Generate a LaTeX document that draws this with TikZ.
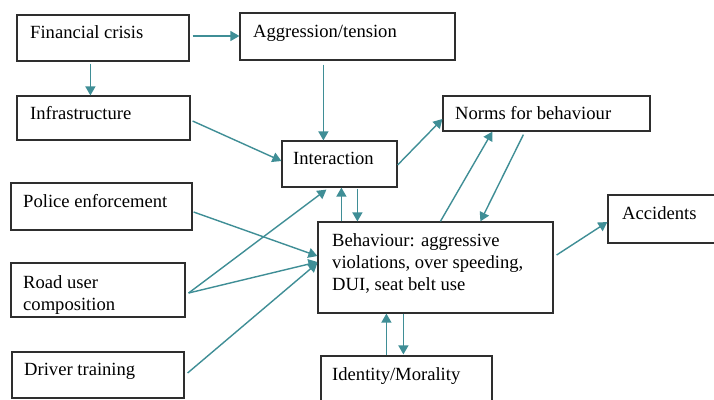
\documentclass[tikz,border=0pt]{standalone}
\usepackage{fontspec}
\setmainfont{Liberation Serif}
\usetikzlibrary{arrows.meta,calc}
\definecolor{teal1}{HTML}{3F8E96}
\definecolor{boxc}{HTML}{2E2E2E}
\tikzset{
  box/.style={draw=boxc,line width=1.2pt,inner sep=0pt,fill=none},
  lbl/.style={anchor=base west,inner sep=0pt,font=\fontsize{18.6}{22}\selectfont,text=black},
  mlbl/.style={anchor=north west,inner sep=0pt,align=left,font=\fontsize{18.6}{22}\selectfont,text=black},
  arr/.style={draw=teal1,line width=1.4pt,-{Triangle[length=9pt,width=10pt]}}
}
\begin{document}
\begin{tikzpicture}[x=1pt,y=-1pt]
\useasboundingbox (0,0) rectangle (714,399);
\clip (0,0) rectangle (714,399);
\fill[white] (0,0) rectangle (714,399);
% boxes
\node[box,minimum width=172pt,minimum height=46pt] (fin) at (103,38) {};
\node[box,minimum width=215pt,minimum height=47pt] (agg) at (347.5,36.5) {};
\node[box,minimum width=173pt,minimum height=44pt] (inf) at (103.5,118) {};
\node[box,minimum width=115pt,minimum height=46pt] (int) at (339.5,164) {};
\node[box,minimum width=207pt,minimum height=35pt] (norms) at (546.5,113.5) {};
\node[box,minimum width=112pt,minimum height=48pt] (acc) at (664,219) {};
\node[box,minimum width=235pt,minimum height=91pt] (beh) at (435.5,267.5) {};
\node[box,minimum width=181pt,minimum height=47pt] (pol) at (101.5,206.5) {};
\node[box,minimum width=174pt,minimum height=54pt] (road) at (98,290) {};
\node[box,minimum width=172pt,minimum height=46pt] (drv) at (98,375) {};
\node[box,minimum width=171pt,minimum height=54pt] (ident) at (406.5,383) {};
% texts
\node[lbl] (tfin) at (30,38.5) {Financial crisis};
\node[lbl] (tagg) at (253,37) {Aggression/tension};
\node[lbl] (tinf) at (30,119) {Infrastructure};
\node[lbl] (tint) at (293,164) {Interaction};
\node[lbl] (tnorms) at (455,119) {Norms for behaviour};
\node[lbl] (tacc) at (622,219) {Accidents};
\node[mlbl] (tbeh) at (332,233) {Behaviour: aggressive\\violations, over speeding,\\DUI, seat belt use};
\node[lbl] (tpol) at (23,207) {Police enforcement};
\node[mlbl] (troad) at (23,275) {Road user\\composition};
\node[lbl] (tdrv) at (24,375) {Driver training};
\node[lbl] (tident) at (332,380) {Identity/Morality};
% connectors
\draw[arr] ($(fin.east)+(3,-2)$) -- ($(agg.west)+(0,-0.5)$);
\draw[arr] ($(fin.south west)+(74,2)$) -- ($(inf.north west)+(74,0)$);
\draw[arr] ($(agg.south west)+(84,4)$) -- ($(int.north west)+(42,0)$);
\draw[arr] ($(inf.east)+(2,3)$) -- ($(int.west)+(0,-3)$);
\draw[arr] ($(int.east)+(0,1)$) -- ($(norms.west)+(0,5.5)$);
\draw[arr] ($(beh.north west)+(123,0)$) -- ($(norms.south west)+(50,0)$);
\draw[arr] ($(norms.south west)+(81,3)$) -- ($(beh.north west)+(163,0)$);
\draw[arr] ($(beh.east)+(3,-12.5)$) -- ($(acc.west)+(0,3)$);
\draw[arr] ($(beh.north west)+(24,0)$) -- ($(int.south west)+(60,0)$);
\draw[arr] ($(int.south west)+(76,1)$) -- ($(beh.north west)+(40,0)$);
\draw[arr] ($(pol.east)+(1,5.5)$) -- ($(beh.west)+(0,-11.5)$);
\draw[arr] ($(road.east)+(3,3)$) -- ($(int.south west)+(45,2)$);
\draw[arr] ($(road.east)+(3,3)$) -- ($(beh.west)+(0,-5.5)$);
\draw[arr] ($(drv.east)+(3,-2)$) -- ($(beh.west)+(0,-4.5)$);
\draw[arr] ($(ident.north west)+(66,0)$) -- ($(beh.south west)+(69,0)$);
\draw[arr] ($(beh.south west)+(86,0)$) -- ($(ident.north west)+(83,-1)$);
\end{tikzpicture}
\end{document}
